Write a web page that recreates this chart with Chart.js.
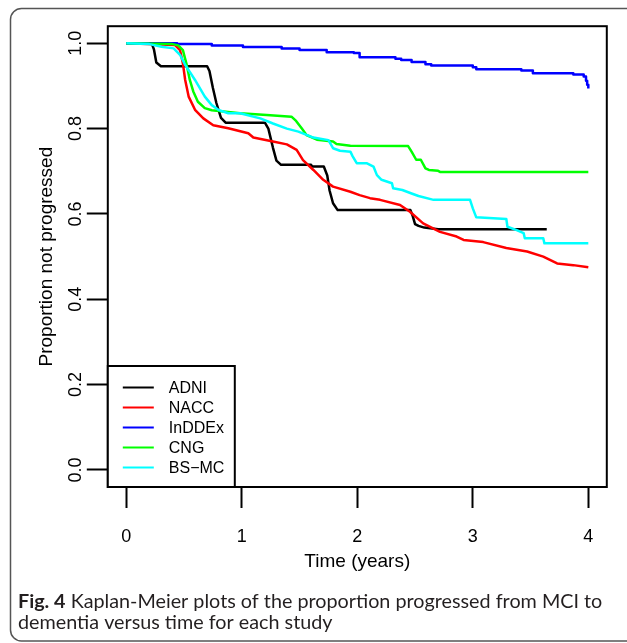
<!DOCTYPE html>
<html><head><meta charset="utf-8">
<script src="https://cdn.jsdelivr.net/npm/chart.js@4.4.1/dist/chart.umd.min.js"></script>
<style>html,body{margin:0;padding:0;background:#fff;}canvas{display:block;}</style>
</head><body>
<canvas id="c" width="627" height="643"></canvas>
<script>
// ---- data ----
const seriesNames = ['ADNI', 'NACC', 'InDDEx', 'CNG', 'BS\u2212MC'];
const seriesColors = ['#000000', '#ff0000', '#0000ff', '#00ff00', '#00ffff'];

const adniTime = [0, 0.22, 0.24, 0.26, 0.30, 0.70, 0.72, 0.75, 0.78, 0.82, 0.86, 1.20, 1.23, 1.27, 1.30, 1.34, 1.60, 1.61, 1.71, 1.74, 1.76, 1.79, 1.83, 2.46, 2.48, 2.50, 2.53, 2.58, 2.70, 3.64];
const adniSurv = [1, 1, 0.985, 0.955, 0.946, 0.946, 0.935, 0.895, 0.86, 0.825, 0.814, 0.814, 0.80, 0.755, 0.725, 0.715, 0.715, 0.711, 0.711, 0.69, 0.655, 0.625, 0.609, 0.609, 0.595, 0.576, 0.572, 0.568, 0.564, 0.564];

const naccTime = [0, 0.42, 0.465, 0.49, 0.51, 0.54, 0.595, 0.667, 0.753, 0.883, 1.056, 1.10, 1.27, 1.39, 1.475, 1.53, 1.62, 1.705, 1.79, 1.94, 2.02, 2.11, 2.197, 2.37, 2.456, 2.57, 2.716, 2.86, 2.92, 3.09, 3.29, 3.47, 3.61, 3.73, 3.87, 4.0];
const naccSurv = [1, 0.996, 0.984, 0.953, 0.914, 0.875, 0.844, 0.824, 0.808, 0.801, 0.789, 0.779, 0.77, 0.763, 0.75, 0.726, 0.703, 0.68, 0.664, 0.652, 0.644, 0.637, 0.633, 0.621, 0.605, 0.578, 0.558, 0.547, 0.539, 0.534, 0.52, 0.512, 0.5, 0.484, 0.48, 0.475];

const inddexTime = [0, 0.44, 0.74, 1.01, 1.345, 1.50, 1.735, 1.97, 2.02, 2.33, 2.38, 2.47, 2.59, 2.64, 3.00, 3.03, 3.42, 3.52, 3.87, 3.96, 3.98, 3.99, 4.0];
const inddexSurv = [1, 0.998, 0.995, 0.991, 0.988, 0.984, 0.979, 0.977, 0.967, 0.964, 0.961, 0.956, 0.951, 0.948, 0.944, 0.939, 0.936, 0.930, 0.927, 0.922, 0.912, 0.903, 0.894];

const cngTime = [0, 0.40, 0.45, 0.49, 0.52, 0.55, 0.58, 0.62, 0.68, 0.74, 0.985, 1.216, 1.43, 1.47, 1.52, 1.56, 1.65, 1.79, 1.82, 1.94, 2.44, 2.47, 2.51, 2.55, 2.59, 2.62, 2.70, 2.72, 4.0];
const cngSurv = [1, 0.998, 0.995, 0.984, 0.953, 0.914, 0.887, 0.863, 0.848, 0.843, 0.836, 0.832, 0.828, 0.818, 0.80, 0.785, 0.774, 0.77, 0.764, 0.76, 0.759, 0.746, 0.727, 0.727, 0.707, 0.703, 0.701, 0.698, 0.698];

const bsmcTime = [0, 0.20, 0.306, 0.41, 0.465, 0.51, 0.55, 0.595, 0.638, 0.68, 0.74, 0.797, 0.883, 0.985, 1.16, 1.27, 1.39, 1.49, 1.62, 1.75, 1.79, 1.85, 1.94, 1.96, 1.995, 2.08, 2.14, 2.17, 2.21, 2.30, 2.31, 2.39, 2.47, 2.53, 2.66, 2.976, 3.00, 3.03, 3.29, 3.30, 3.38, 3.44, 3.45, 3.61, 3.62, 4.0];
const bsmcSurv = [1, 0.998, 0.992, 0.988, 0.973, 0.949, 0.933, 0.914, 0.894, 0.875, 0.855, 0.844, 0.836, 0.836, 0.824, 0.812, 0.80, 0.793, 0.779, 0.773, 0.754, 0.748, 0.746, 0.735, 0.719, 0.719, 0.711, 0.691, 0.68, 0.672, 0.66, 0.656, 0.648, 0.642, 0.633, 0.633, 0.613, 0.592, 0.588, 0.570, 0.562, 0.555, 0.543, 0.543, 0.531, 0.531];

const xTickValues = [0, 1, 2, 3, 4];
const xTickLabels = ['0', '1', '2', '3', '4'];
const yTickValues = [0, 0.2, 0.4, 0.6, 0.8, 1.0];
const yTickLabels = ['0.0', '0.2', '0.4', '0.6', '0.8', '1.0'];

const xTitle = 'Time (years)';
const yTitle = 'Proportion not progressed';
const captionBold = 'Fig. 4';
const captionLine1 = ' Kaplan-Meier plots of the proportion progressed from MCI to';
const captionLine2 = 'dementia versus time for each study';

// ---- build ----
const toPts = (t, s) => t.map((v, i) => ({x: v, y: s[i]}));
const allTimes = [adniTime, naccTime, inddexTime, cngTime, bsmcTime];
const allSurv = [adniSurv, naccSurv, inddexSurv, cngSurv, bsmcSurv];
const stepMode = [false, false, 'before', false, false];

const datasets = seriesNames.map((n, i) => ({
  label: n,
  data: toPts(allTimes[i], allSurv[i]),
  borderColor: seriesColors[i],
  backgroundColor: seriesColors[i],
  borderWidth: 2.5,
  pointRadius: 0,
  fill: false,
  tension: 0,
  stepped: stepMode[i],
  borderJoinStyle: 'round',
  order: seriesNames.length - i   // later series drawn on top, as in R
}));

const FONT = 'Liberation Sans, Arial, Helvetica, sans-serif';

const framePlugin = {
  id: 'frame',
  beforeDraw(chart) {
    const ctx = chart.ctx;
    ctx.save();
    ctx.fillStyle = '#fff';
    ctx.fillRect(0, 0, chart.width, chart.height);
    ctx.strokeStyle = '#555';
    ctx.lineWidth = 1.5;
    ctx.beginPath();
    ctx.roundRect(10.5, 8.5, 630, 632.5, 11);
    ctx.stroke();
    ctx.restore();
  }
};

const boxPlugin = {
  id: 'boxAndLegend',
  afterDraw(chart) {
    const ctx = chart.ctx;
    const a = chart.chartArea;
    ctx.save();
    // plot box
    ctx.strokeStyle = '#000';
    ctx.lineWidth = 2;
    ctx.strokeRect(a.left, a.top, a.right - a.left, a.bottom - a.top);

    // rotated y tick labels
    const ys = chart.scales.y;
    ctx.fillStyle = '#000';
    ctx.font = '18px ' + FONT;
    ctx.textAlign = 'center';
    ctx.textBaseline = 'middle';
    yTickValues.forEach((v, i) => {
      const py = ys.getPixelForValue(v);
      ctx.save();
      ctx.translate(a.left - 32, py);
      ctx.rotate(-Math.PI / 2);
      ctx.fillText(yTickLabels[i], 0, 0);
      ctx.restore();
    });

    // legend (bottom-left inside plot)
    const lw = 127, lh = 121;
    const lx = a.left, ly = a.bottom - lh;
    ctx.fillStyle = '#fff';
    ctx.fillRect(lx, ly, lw, lh);
    ctx.strokeStyle = '#000';
    ctx.lineWidth = 2;
    ctx.strokeRect(lx, ly, lw, lh);
    ctx.font = '16px ' + FONT;
    ctx.textAlign = 'left';
    ctx.textBaseline = 'middle';
    chart.data.datasets.forEach((d, i) => {
      const yy = ly + 21.5 + i * 20;
      ctx.strokeStyle = d.borderColor;
      ctx.lineWidth = 2;
      ctx.beginPath();
      ctx.moveTo(lx + 15, yy);
      ctx.lineTo(lx + 46, yy);
      ctx.stroke();
      ctx.fillStyle = '#000';
      ctx.fillText(d.label, lx + 61, yy + 1);
    });

    // caption
    const capFam = 'Lato, "Open Sans", sans-serif';
    ctx.font = 'bold 100px ' + capFam;
    const wb = ctx.measureText(captionBold).width;
    ctx.font = '100px ' + capFam;
    const wr = ctx.measureText(captionLine1).width;
    const size = 100 * 585 / (wb + wr);
    ctx.fillStyle = '#231f20';
    ctx.textBaseline = 'alphabetic';
    ctx.textAlign = 'left';
    ctx.font = 'bold ' + size + 'px ' + capFam;
    ctx.fillText(captionBold, 18, 608);
    const wb2 = ctx.measureText(captionBold).width;
    ctx.font = size + 'px ' + capFam;
    ctx.fillText(captionLine1, 18 + wb2, 608);
    ctx.fillText(captionLine2, 18, 629);
    ctx.restore();
  }
};

new Chart(document.getElementById('c'), {
  type: 'line',
  data: {datasets},
  options: {
    responsive: false,
    animation: false,
    devicePixelRatio: 1,
    layout: {padding: {top: 26.2, right: 20.2, left: 0, bottom: 66}},
    plugins: {legend: {display: false}, tooltip: {enabled: false}},
    scales: {
      x: {
        type: 'linear',
        min: -0.16, max: 4.16,
        afterBuildTicks: s => { s.ticks = xTickValues.map(v => ({value: v})); },
        afterFit: s => { s.height = 90; },
        ticks: {
          autoSkip: false, maxRotation: 0, minRotation: 0,
          font: {family: FONT, size: 18}, color: '#000', padding: 18,
          callback: (v) => xTickLabels[xTickValues.indexOf(v)]
        },
        grid: {drawOnChartArea: false, drawTicks: true, tickLength: 21, tickWidth: 2, tickColor: '#000', color: '#000'},
        border: {display: false},
        title: {display: true, text: xTitle, color: '#000', font: {family: FONT, size: 19}, padding: {top: 0, bottom: 3.6}}
      },
      y: {
        type: 'linear',
        min: -0.04, max: 1.04,
        afterBuildTicks: s => { s.ticks = yTickValues.map(v => ({value: v})); },
        afterFit: s => { s.width = 107.8; },
        ticks: {color: 'rgba(0,0,0,0)', font: {family: FONT, size: 18}, callback: () => ''},
        grid: {drawOnChartArea: false, drawTicks: true, tickLength: 21, tickWidth: 2, tickColor: '#000', color: '#000'},
        border: {display: false},
        title: {display: true, text: yTitle, color: '#000', font: {family: FONT, size: 19}, padding: {top: 35, bottom: 0}}
      }
    }
  },
  plugins: [framePlugin, boxPlugin]
});
</script>
</body></html>
